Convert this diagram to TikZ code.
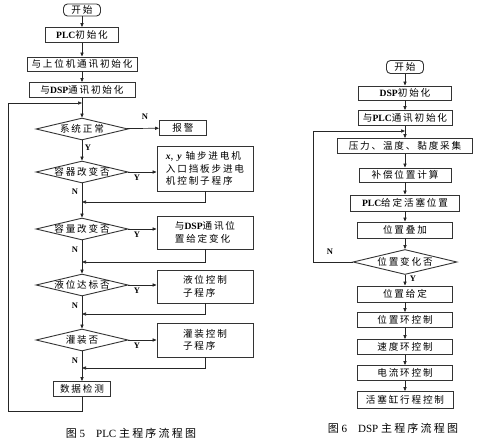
\documentclass[tikz,border=0pt]{standalone}
\usepackage{fontspec}
\usetikzlibrary{shapes.geometric,arrows.meta}
\newfontfamily\cjk[LetterSpace=19]{Noto Sans CJK SC}
\newfontfamily\capcjk[LetterSpace=20]{Noto Sans CJK SC}
\newfontfamily\latf{Liberation Serif}
\newcommand\Lb[1]{{\latf\bfseries #1}}
\newcommand\Li[1]{{\latf\bfseries\itshape #1}}
\begin{document}
\begin{tikzpicture}[x=1pt,y=-1pt,
  font=\cjk\fontsize{9.6}{12.5}\selectfont,
  box/.style={draw=black!80, line width=0.9pt, inner sep=0pt, align=center},
  startbox/.style={box, rounded corners=4pt},
  dia/.style={diamond, draw=black!80, line width=0.9pt, inner sep=0pt, aspect=4,
              text height=6pt, text depth=0pt, minimum width=92pt, minimum height=22pt},
  ln/.style={draw=black!85, line width=0.7pt},
  arr/.style={ln, -{Triangle[length=4pt,width=3.2pt]}},
  yn/.style={font=\latf\bfseries\fontsize{8.5}{8.5}\selectfont, inner sep=0pt},
  capt/.style={font=\capcjk\fontsize{11}{12}\selectfont, inner sep=0pt}
]
\useasboundingbox (0,0) rectangle (480,445);

% ---------------- left chart ----------------
\node[startbox, minimum width=37pt, minimum height=12pt] (s1) at (82,10) {开始};
\node[box, minimum width=73pt, minimum height=15pt] (a1) at (82,35) {\Lb{PLC}初始化};
\node[box, minimum width=110pt, minimum height=14pt] (a2) at (82,64) {与上位机通讯初始化};
\node[box, minimum width=106pt, minimum height=15pt] (a3) at (82,90) {与\Lb{DSP}通讯初始化};
\coordinate (j1) at (82,103);
\node[dia] (d1) at (82,129) {系统正常};
\node[box, minimum width=47pt, minimum height=15pt] (alarm) at (183,128) {报警};
\node[dia] (d2) at (82,172) {容器改变否};
\node[box, minimum width=96pt, minimum height=45pt, align=left] (b1) at (205,168.5)
  {\Li{x}, \Li{y} 轴步进电机\\入口挡板步进电\\机控制子程序};
\node[dia] (d3) at (82,229) {容量改变否};
\node[box, minimum width=96pt, minimum height=33pt, align=left] (b2) at (205,232.5)
  {与\Lb{DSP}通讯位\\置给定变化};
\node[dia] (d4) at (82,285) {液位达标否};
\node[box, minimum width=96pt, minimum height=33pt, align=left] (b3) at (205,286.5)
  {液位控制\\子程序};
\node[dia] (d5) at (82,340) {灌装否};
\node[box, minimum width=96pt, minimum height=34pt, align=left] (b4) at (205,340)
  {灌装控制\\子程序};
\node[box, minimum width=57pt, minimum height=15pt] (data) at (82,389) {数据检测};
\coordinate (r1) at (82,202);
\coordinate (r2) at (82,262);
\coordinate (r3) at (82,314);
\coordinate (r4) at (82,368);
\coordinate (l1) at (8,411);

\draw[arr] (s1) -- (a1);
\draw[arr] (a1) -- (a2);
\draw[arr] (a2) -- (a3);
\draw[arr] (a3) -- (d1);
\draw[arr] (d1) -- (alarm);
\draw[arr] (d1) -- (d2);
\draw[arr] (d2.east) -- (b1.west |- d2.east);
\draw[arr] (b1.south) |- (r1);
\draw[arr] (d2) -- (d3);
\draw[arr] (d3.east) -- (b2.west |- d3.east);
\draw[arr] (b2.south) |- (r2);
\draw[arr] (d3) -- (d4);
\draw[arr] (d4.east) -- (b3.west |- d4.east);
\draw[arr] (b3.south) |- (r3);
\draw[arr] (d4) -- (d5);
\draw[arr] (d5.east) -- (b4.west |- d5.east);
\draw[arr] (b4.south) |- (r4);
\draw[arr] (d5) -- (data);
\draw[arr] (data.south) |- (l1) |- (j1);

\node[yn] (n1) at (145,117) {N};
\node[yn] (y1) at (88,148) {Y};
\node[yn] (y2) at (137,178) {Y};
\node[yn] (n2) at (75,192) {N};
\node[yn] (y3) at (137,235) {Y};
\node[yn] (n3) at (75,250) {N};
\node[yn] (y4) at (137,291) {Y};
\node[yn] (n4) at (75,306) {N};
\node[yn] (y5) at (137,346) {Y};
\node[yn] (n5) at (75,361) {N};

\node[capt] (cap1) at (131,433) {图{\latf\ 5\quad PLC }主程序流程图};

% ---------------- right chart ----------------
\node[startbox, minimum width=37pt, minimum height=13pt] (s2) at (405,67) {开始};
\node[box, minimum width=93pt, minimum height=14pt] (c1) at (405,93) {\Lb{DSP}初始化};
\node[box, minimum width=94pt, minimum height=15pt] (c2) at (405,118) {与\Lb{PLC}通讯初始化};
\coordinate (j2) at (405,131);
\node[box, minimum width=135pt, minimum height=15pt] (c3) at (405,146) {压力、温度、黏度采集};
\node[box, minimum width=92pt, minimum height=14pt] (c4) at (405,175) {补偿位置计算};
\node[box, minimum width=109pt, minimum height=16pt] (c5) at (405,203) {\Lb{PLC}给定活塞位置};
\node[box, minimum width=95pt, minimum height=16pt] (c6) at (405,230) {位置叠加};
\node[dia, minimum width=104pt, minimum height=25pt] (d6) at (405,262) {位置变化否};
\node[box, minimum width=95pt, minimum height=16pt] (c7) at (405,294) {位置给定};
\node[box, minimum width=95pt, minimum height=15pt] (c8) at (405,320) {位置环控制};
\node[box, minimum width=95pt, minimum height=15pt] (c9) at (405,347) {速度环控制};
\node[box, minimum width=95pt, minimum height=15pt] (c10) at (405,373) {电流环控制};
\node[box, minimum width=96pt, minimum height=17pt] (c11) at (405,400) {活塞缸行程控制};
\coordinate (l2) at (313,262);

\draw[arr] (s2) -- (c1);
\draw[arr] (c1) -- (c2);
\draw[arr] (c2) -- (c3);
\draw[arr] (c3) -- (c4);
\draw[arr] (c4) -- (c5);
\draw[arr] (c5) -- (c6);
\draw[arr] (c6) -- (d6);
\draw[arr] (d6.west) -- (l2) |- (j2);
\draw[arr] (d6) -- (c7);
\draw[arr] (c7) -- (c8);
\draw[arr] (c8) -- (c9);
\draw[arr] (c9) -- (c10);
\draw[arr] (c10) -- (c11);

\node[yn] (n6) at (330,252) {N};
\node[yn] (y6) at (413,279) {Y};

\node[capt] (cap2) at (393,428) {图{\latf\ 6\quad DSP }主程序流程图};
\end{tikzpicture}
\end{document}
